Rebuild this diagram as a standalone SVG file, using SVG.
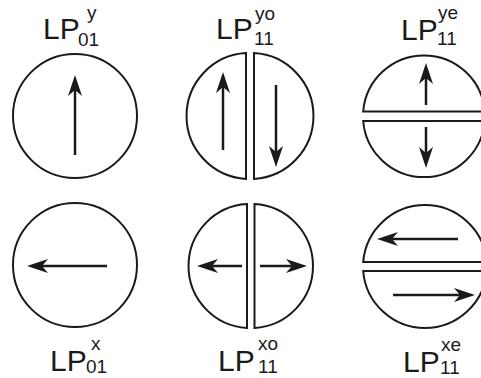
<svg xmlns="http://www.w3.org/2000/svg" xmlns:xlink="http://www.w3.org/1999/xlink" width="481" height="378" viewBox="0 0 481 378">
<style>
.o{fill:none;stroke:#1a1a1a;stroke-width:2}
.a{stroke:#1a1a1a;stroke-width:2.5;fill:none}
.h{fill:#1a1a1a}
.lp{font-family:"Liberation Sans",Arial,sans-serif;font-size:30px;fill:#1a1a1a}
.s{font-family:"Liberation Sans",Arial,sans-serif;font-size:19px;fill:#1a1a1a}
</style>
<defs>
<path id="ah" d="M0,0 L-21,-7 L-15,0 L-21,7 Z"/>
</defs>
<rect width="481" height="378" fill="#fff"/>
<g id="n1">
<circle class="o" cx="75" cy="116" r="62"/>
<text class="lp" x="43" y="39">LP</text><text class="s" x="87" y="19">y</text><text class="s" x="78" y="46">01</text>
</g>
<g id="n2">
<path class="o" d="M246,53.1 A63,63 0 0 0 246,178.9 Z"/>
<path class="o" d="M254,53.1 A63,63 0 0 1 254,178.9 Z"/>
<text class="lp" x="216" y="39">LP</text><text class="s" x="255" y="20">yo</text><text class="s" x="254" y="45">11</text>
</g>
<g id="n3">
<path class="o" d="M363.2,111.5 A61,61 0 0 1 484.8,111.5 Z"/>
<path class="o" d="M363.2,121 A61,61 0 0 0 484.8,121 Z"/>
<text class="lp" x="401" y="40">LP</text><text class="s" x="438" y="19">ye</text><text class="s" x="437" y="45">11</text>
</g>
<g id="n4">
<circle class="o" cx="75" cy="265" r="62"/>
<text class="lp" x="50" y="371">LP</text><text class="s" x="91" y="350">x</text><text class="s" x="86" y="373">01</text>
</g>
<g id="n5">
<path class="o" d="M247,204.1 A62,62 0 0 0 247,327.9 Z"/>
<path class="o" d="M254.5,204.1 A62,62 0 0 1 254.5,327.9 Z"/>
<text class="lp" x="218" y="371">LP</text><text class="s" x="258" y="350">xo</text><text class="s" x="258" y="373">11</text>
</g>
<g id="n6">
<path class="o" d="M363.2,262 A62,62 0 0 1 486.8,262 Z"/>
<path class="o" d="M363.2,271 A62,62 0 0 0 486.8,271 Z"/>
<text class="lp" x="403" y="372">LP</text><text class="s" x="441" y="351">xe</text><text class="s" x="440" y="374">11</text>
</g>
<g id="arrows">
<line class="a" x1="75" y1="155" x2="75" y2="88"/><use class="h" xlink:href="#ah" transform="translate(75,75) rotate(-90)"/>
<line class="a" x1="223" y1="150" x2="223" y2="85"/><use class="h" xlink:href="#ah" transform="translate(223,72) rotate(-90)"/>
<line class="a" x1="276" y1="85" x2="276" y2="154"/><use class="h" xlink:href="#ah" transform="translate(276,167) rotate(90)"/>
<line class="a" x1="426" y1="105" x2="426" y2="76"/><use class="h" xlink:href="#ah" transform="translate(426,63) rotate(-90)"/>
<line class="a" x1="426" y1="127" x2="426" y2="155"/><use class="h" xlink:href="#ah" transform="translate(426,168) rotate(90)"/>
<line class="a" x1="107" y1="266" x2="40" y2="266"/><use class="h" xlink:href="#ah" transform="translate(27,266) rotate(180)"/>
<line class="a" x1="242" y1="266" x2="210" y2="266"/><use class="h" xlink:href="#ah" transform="translate(197,266) rotate(180)"/>
<line class="a" x1="260" y1="266" x2="294" y2="266"/><use class="h" xlink:href="#ah" transform="translate(307,266)"/>
<line class="a" x1="458" y1="239" x2="390" y2="239"/><use class="h" xlink:href="#ah" transform="translate(377,239) rotate(180)"/>
<line class="a" x1="393" y1="295" x2="462" y2="295"/><use class="h" xlink:href="#ah" transform="translate(475,295)"/>
</g>
</svg>
